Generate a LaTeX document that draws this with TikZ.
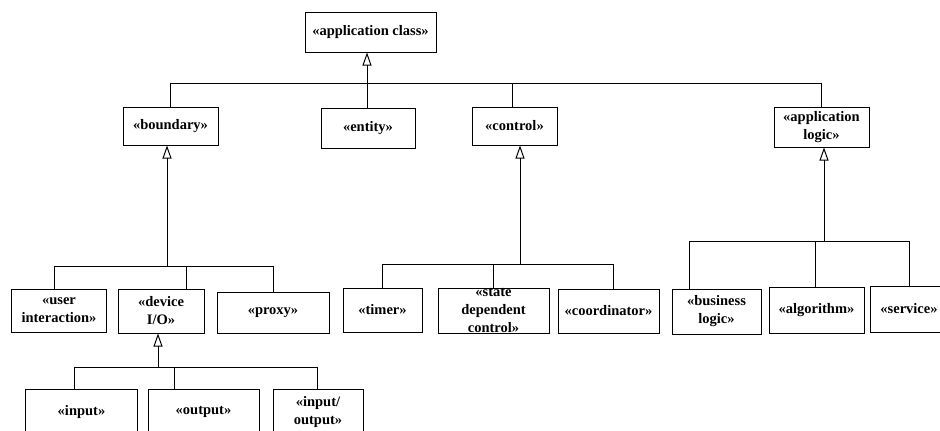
\documentclass[tikz,border=0pt]{standalone}
\usepackage{fontspec}
\setmainfont{Liberation Serif}
\usetikzlibrary{arrows.meta}
\begin{document}
\begin{tikzpicture}[x=1bp,y=-1bp,
  cls/.style={draw, line width=1bp, inner sep=0pt, align=center,
    font=\bfseries\fontsize{14.5bp}{18bp}\selectfont},
  sz/.style 2 args={minimum width=#1bp, minimum height=#2bp},
  wire/.style={line width=1bp},
  gen/.style={line width=1bp, -{Triangle[open, length=13bp, width=9bp]}}]
\clip (0,0) rectangle (940,430);
\fill[white] (0,0) rectangle (940,430);

% classes
\node[cls, sz={131}{40}] (appclass) at (370.5,32) {«application class»};
\node[cls, sz={95}{38}] (boundary) at (170.5,126) {«boundary»};
\node[cls, sz={94}{40}] (entity) at (368,128) {«entity»};
\node[cls, sz={85}{38}] (control) at (514.5,126) {«control»};
\node[cls, sz={95}{40}] (applogic) at (821.5,127) {«application\\logic»};

\node[cls, sz={94}{43}] (user) at (59,310.5) {«user\\interaction»};
\node[cls, sz={86}{44}] (device) at (161,311) {«device\\I/O»};
\node[cls, sz={112}{41}] (proxy) at (273,312.5) {«proxy»};

\node[cls, sz={111}{46}] (input) at (81.5,412) {«input»};
\node[cls, sz={111}{46}] (output) at (203.5,412) {«output»};
\node[cls, sz={90}{46}] (inout) at (318,412) {«input/\\output»};

\node[cls, sz={79}{44}] (timer) at (382.5,310) {«timer»};
\node[cls, sz={111}{45}] (state) at (493.5,310.5) {«state\\dependent\\control»};
\node[cls, sz={101}{44}] (coord) at (608.5,311) {«coordinator»};

\node[cls, sz={89}{45}] (business) at (716.5,311.5) {«business\\logic»};
\node[cls, sz={95}{46}] (algorithm) at (816.5,310) {«algorithm»};
\node[cls, sz={78}{46}] (service) at (909,309) {«service»};

% top-level generalization
\coordinate (b0) at (367,83);
\coordinate (c0) at (512,83);
\draw[gen] (b0) -- (b0 |- appclass.south);
\draw[wire] (boundary.north |- b0) -- (applogic.north |- b0);
\draw[wire] (boundary.north |- b0) -- (boundary.north);
\draw[wire] (b0) -- (b0 |- entity.north);
\draw[wire] (c0) -- (c0 |- control.north);
\draw[wire] (applogic.north |- b0) -- (applogic.north);

% boundary subclasses
\coordinate (b1) at (167,266);
\coordinate (u1) at (54,266);
\coordinate (d1) at (186,266);
\coordinate (p1) at (273,266);
\draw[gen] (b1) -- (b1 |- boundary.south);
\draw[wire] (u1) -- (p1);
\draw[wire] (u1) -- (u1 |- user.north);
\draw[wire] (d1) -- (d1 |- device.north);
\draw[wire] (p1) -- (p1 |- proxy.north);

% device I/O subclasses
\coordinate (b2) at (158,367);
\coordinate (i2) at (74,367);
\coordinate (o2) at (174,367);
\coordinate (io2) at (317,367);
\draw[gen] (b2) -- (b2 |- device.south);
\draw[wire] (i2) -- (io2);
\draw[wire] (i2) -- (i2 |- input.north);
\draw[wire] (o2) -- (o2 |- output.north);
\draw[wire] (io2) -- (io2 |- inout.north);

% control subclasses
\coordinate (b3) at (520,264);
\coordinate (t3) at (382,264);
\coordinate (s3) at (493,264);
\coordinate (k3) at (613,264);
\draw[gen] (b3) -- (b3 |- control.south);
\draw[wire] (t3) -- (k3);
\draw[wire] (t3) -- (t3 |- timer.north);
\draw[wire] (s3) -- (s3 |- state.north);
\draw[wire] (k3) -- (k3 |- coord.north);

% application logic subclasses
\coordinate (b4) at (824,241);
\coordinate (g4) at (689,241);
\coordinate (a4) at (815,241);
\coordinate (v4) at (909,241);
\draw[gen] (b4) -- (b4 |- applogic.south);
\draw[wire] (g4) -- (v4);
\draw[wire] (g4) -- (g4 |- business.north);
\draw[wire] (a4) -- (a4 |- algorithm.north);
\draw[wire] (v4) -- (v4 |- service.north);
\end{tikzpicture}
\end{document}
